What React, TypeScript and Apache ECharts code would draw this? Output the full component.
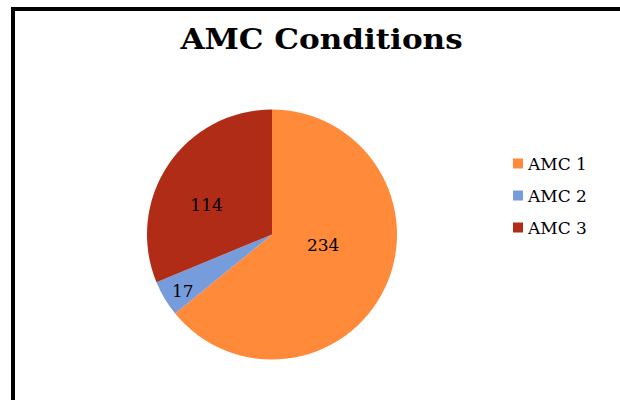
import React, { useEffect, useRef } from "react";
import * as echarts from "echarts";

const titleText = "AMC Conditions";
const categories = ["AMC 1", "AMC 2", "AMC 3"];
const counts = [234, 17, 114];
const colors = ["#FF8A3A", "#779CDB", "#B12C17"];
// nudges that move each slice's value label to where it sits on the plot
const labelOffsets: [number, number][] = [
  [-8, -18],
  [-33, 23],
  [-11, 7],
];

const serif = "'DejaVu Serif', 'Liberation Serif', serif";

export default function App() {
  const ref = useRef<HTMLDivElement>(null);

  useEffect(() => {
    if (!ref.current) return;
    const chart = echarts.init(ref.current, undefined, { renderer: "svg" });
    chart.setOption({
      animation: false,
      backgroundColor: "#ffffff",
      legend: {
        orient: "vertical",
        left: 513,
        top: 155,
        padding: 0,
        icon: "rect",
        itemWidth: 10,
        itemHeight: 10,
        itemGap: 15,
        data: categories,
        textStyle: {
          fontFamily: serif,
          fontSize: 17,
          color: "#000000",
        },
      },
      graphic: [
        {
          type: "polyline",
          shape: {
            points: [
              [13, 400],
              [13, 9],
              [620, 9],
            ],
          },
          style: { stroke: "#000000", lineWidth: 4, fill: "none" },
          silent: true,
        },
        {
          // heading, widened to the broad schoolbook face
          type: "text",
          x: 321.5,
          y: 40,
          scaleX: 1.15,
          silent: true,
          style: {
            text: titleText,
            fontFamily: serif,
            fontWeight: "bold",
            fontSize: 27,
            fill: "#000000",
            align: "center",
            verticalAlign: "middle",
          },
        },
      ],
      series: [
        {
          type: "pie",
          center: [272, 234.5],
          radius: 125,
          startAngle: 90,
          clockwise: true,
          avoidLabelOverlap: false,
          labelLine: { show: false },
          label: {
            show: true,
            position: "inside",
            formatter: "{c}",
            fontFamily: serif,
            fontSize: 17,
            color: "#000000",
          },
          itemStyle: { borderWidth: 0 },
          emphasis: { disabled: true },
          data: categories.map((name, i) => ({
            name,
            value: counts[i],
            itemStyle: { color: colors[i] },
            label: { offset: labelOffsets[i] },
          })),
        },
      ],
    });
    return () => chart.dispose();
  }, []);

  return (
    <div
      ref={ref}
      style={{ position: "fixed", left: 0, top: 0, width: 620, height: 400 }}
    />
  );
}
